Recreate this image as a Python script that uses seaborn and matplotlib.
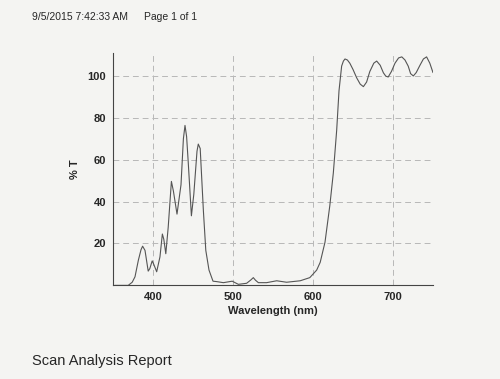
import numpy as np
import pandas as pd
import seaborn as sns
import matplotlib.pyplot as plt

# transmission scan
wavelength = [352, 369, 374, 377.5, 381.7, 385, 387, 390, 394, 396, 399, 401,
              404.6, 408.7, 411.7, 413.5, 416, 419, 423, 425.5, 430, 435, 438,
              440, 442, 444, 448, 451, 455, 456.6, 459, 463, 466, 470, 475,
              479.6, 488, 499, 506.7, 517, 522, 525.4, 528, 531.7, 542, 554.6,
              567, 584, 596, 604.6, 609, 615, 621, 625.4, 629.6, 632.5, 635.8,
              638, 640, 643, 646, 650, 654.6, 659, 663, 667, 671, 676, 679.6,
              684, 688, 691, 694, 698, 702.5, 707, 711, 715, 719, 722, 725.4,
              729, 733.7, 738, 742, 746, 750]
transmission = [0, 0, 1.5, 4.1, 12, 17, 18.7, 16.7, 6.8, 8, 11.7, 10,
                6.5, 13.6, 24.5, 22, 15.1, 27.7, 49.6, 45, 34, 48, 70,
                76.3, 71, 59, 33.2, 43.4, 64, 67.4, 65.3, 35.5, 16.7, 7.3, 2,
                1.8, 1.3, 2, 0.5, 1, 2.5, 3.7, 2.5, 1.3, 1.3, 2.2,
                1.5, 2.2, 3.7, 7.3, 11, 20.6, 38, 53.6, 74, 92.8, 104.6,
                107, 108, 107.5, 106, 103, 99, 96, 94.8, 97, 102, 106, 107,
                105, 101.4, 99.8, 99.4, 102, 106, 108.5, 109, 107.5, 104.6, 101, 99.9,
                101.5, 105, 108, 109, 106, 101.5]
x_ticks = [400, 500, 600, 700]
y_ticks = [20, 40, 60, 80, 100]

df = pd.DataFrame({'Wavelength (nm)': wavelength, '%T': transmission})

sns.set_theme(style='white')
plt.rcParams['font.family'] = ['Liberation Sans', 'DejaVu Sans']
bg = '#f4f4f2'

fig = plt.figure(figsize=(5.0, 3.79), dpi=100, facecolor=bg)
ax = fig.add_axes([0.226, 0.247, 0.640, 0.614])
ax.set_facecolor(bg)

sns.lineplot(data=df, x='Wavelength (nm)', y='%T', ax=ax,
             color='#555555', linewidth=0.8)

ax.set_xlim(350, 750)
ax.set_ylim(0, 111)
ax.set_xticks(x_ticks)
ax.set_yticks(y_ticks)
ax.grid(True, color='#b8b8b8', linestyle=(0, (6, 4)), linewidth=0.7)
for s in ['top', 'right']:
    ax.spines[s].set_visible(False)
for s in ['left', 'bottom']:
    ax.spines[s].set_color('#444444')
    ax.spines[s].set_linewidth(0.8)
ax.tick_params(axis='both', length=3, width=0.6, color='#444444', pad=2,
               labelsize=8)
for lab in ax.get_xticklabels() + ax.get_yticklabels():
    lab.set_fontweight('bold')
ax.set_xlabel('Wavelength (nm)', fontsize=8, fontweight='bold', labelpad=3)
ax.set_ylabel('% T', fontsize=8, fontweight='bold', labelpad=5)

fig.text(0.064, 0.955, '9/5/2015 7:42:33 AM', fontsize=7.5, va='center')
fig.text(0.288, 0.955, 'Page 1 of 1', fontsize=7.5, va='center')
fig.text(0.064, 0.048, 'Scan Analysis Report', fontsize=10.5, va='center')

fig.savefig('out.png', dpi=100, facecolor=bg)
